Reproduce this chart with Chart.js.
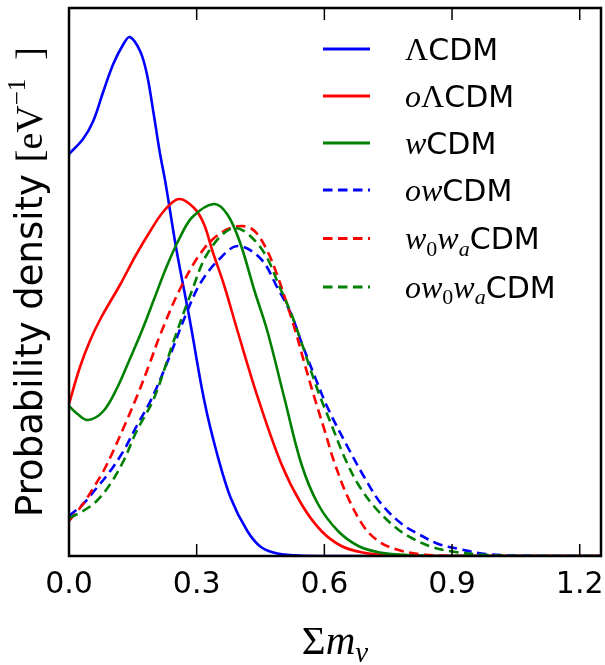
<!DOCTYPE html>
<html>
<head>
<meta charset="utf-8">
<script src="https://cdn.jsdelivr.net/npm/chart.js@4.4.0/dist/chart.umd.min.js"></script>
<style>
  html, body { margin: 0; padding: 0; background: #fff; }
  canvas { display: block; }
</style>
</head>
<body>
<canvas id="chart" width="605" height="665"></canvas>
<script>
// sum of neutrino masses posteriors (arbitrary density units)
const xTicks = [0.0, 0.3, 0.6, 0.9, 1.2];

const lcdmX = [0, 0.033, 0.057, 0.081, 0.104, 0.128, 0.143, 0.167, 0.183, 0.199, 0.214, 0.226, 0.253, 0.283, 0.318, 0.348, 0.38, 0.419, 0.451, 0.49, 0.55, 0.65, 1.25];
const lcdmY = [4.02, 4.17, 4.35, 4.65, 4.92, 5.12, 5.19, 5.05, 4.82, 4.42, 4.02, 3.75, 3.05, 2.38, 1.55, 1.02, 0.58, 0.25, 0.09, 0.025, 0.003, 0, 0];

const olcdmX = [0, 0.025, 0.049, 0.075, 0.121, 0.156, 0.191, 0.223, 0.258, 0.294, 0.317, 0.337, 0.365, 0.396, 0.444, 0.499, 0.546, 0.593, 0.64, 0.69, 0.76, 0.86, 1.25];
const olcdmY = [1.52, 1.88, 2.15, 2.38, 2.72, 3.0, 3.25, 3.45, 3.57, 3.48, 3.32, 3.05, 2.7, 2.25, 1.58, 0.92, 0.52, 0.25, 0.1, 0.035, 0.006, 0, 0];

const wcdmX = [0, 0.02, 0.045, 0.081, 0.113, 0.143, 0.172, 0.2, 0.23, 0.26, 0.29, 0.341, 0.373, 0.403, 0.436, 0.466, 0.506, 0.546, 0.585, 0.632, 0.68, 0.73, 0.8, 0.9, 1.25];
const wcdmY = [1.50, 1.42, 1.36, 1.45, 1.68, 1.97, 2.26, 2.57, 2.90, 3.18, 3.39, 3.52, 3.41, 3.12, 2.65, 2.25, 1.58, 0.92, 0.52, 0.25, 0.1, 0.035, 0.008, 0, 0];

const owcdmX = [0, 0.033, 0.065, 0.097, 0.128, 0.159, 0.195, 0.235, 0.278, 0.309, 0.349, 0.396, 0.451, 0.49, 0.522, 0.545, 0.577, 0.608, 0.656, 0.695, 0.734, 0.782, 0.821, 0.868, 0.916, 0.979, 1.1, 1.25];
const owcdmY = [0.40, 0.52, 0.68, 0.85, 1.05, 1.30, 1.58, 1.98, 2.45, 2.73, 2.95, 3.10, 2.97, 2.68, 2.42, 2.15, 1.80, 1.48, 1.08, 0.78, 0.52, 0.32, 0.22, 0.12, 0.07, 0.02, 0, 0];

const w0waX = [0, 0.033, 0.057, 0.081, 0.104, 0.13, 0.16, 0.19, 0.215, 0.262, 0.313, 0.36, 0.404, 0.436, 0.466, 0.49, 0.515, 0.532, 0.553, 0.577, 0.601, 0.624, 0.656, 0.695, 0.73, 0.766, 0.821, 0.9, 1.25];
const w0waY = [0.35, 0.52, 0.68, 0.85, 1.05, 1.30, 1.60, 1.93, 2.22, 2.68, 3.05, 3.24, 3.30, 3.25, 3.05, 2.80, 2.48, 2.25, 1.93, 1.58, 1.25, 0.93, 0.58, 0.28, 0.14, 0.07, 0.02, 0, 0];

const ow0waX = [0, 0.033, 0.065, 0.097, 0.128, 0.159, 0.2, 0.246, 0.286, 0.329, 0.389, 0.451, 0.499, 0.527, 0.585, 0.616, 0.648, 0.679, 0.718, 0.766, 0.805, 0.853, 0.9, 0.963, 1.05, 1.25];
const ow0waY = [0.38, 0.45, 0.55, 0.72, 0.95, 1.25, 1.58, 2.15, 2.62, 3.05, 3.28, 3.08, 2.65, 2.37, 1.65, 1.32, 0.98, 0.72, 0.49, 0.29, 0.18, 0.09, 0.045, 0.015, 0, 0];

const seriesNames = ['ΛCDM', 'oΛCDM', 'wCDM', 'owCDM', 'w₀wₐCDM', 'ow₀wₐCDM'];

const SANS = '"DejaVu Sans"';
const SERIF = '"Liberation Serif"';

function pts(xs, ys) {
    return xs.map((x, i) => ({ x: x, y: ys[i] }));
}

function makeSet(label, xs, ys, color, dashed, order) {
    return {
        label: label,
        data: pts(xs, ys),
        borderColor: color,
        borderWidth: 2.6,
        borderDash: dashed ? [9.5, 5.5] : [],
        pointRadius: 0,
        fill: false,
        tension: 0.35,
        order: order
    };
}

// split a label into sans / math-italic / subscript pieces, like mathtext does
function labelParts(label, size) {
    const parts = [];
    for (const ch of label) {
        let p;
        if (ch === '₀') p = { t: '0', f: `${Math.round(size * 0.72)}px ${SERIF}`, dy: size * 0.22 };
        else if (ch === 'ₐ') p = { t: 'a', f: `italic ${Math.round(size * 0.72)}px ${SERIF}`, dy: size * 0.22 };
        else if (ch === 'Λ') p = { t: ch, f: `${size + 2}px ${SERIF}`, dy: 0 };
        else if (/[a-z]/.test(ch)) p = { t: ch, f: `italic ${size + 2}px ${SERIF}`, dy: 0 };
        else p = { t: ch, f: `${size}px ${SANS}`, dy: 0 };
        const last = parts[parts.length - 1];
        if (last && last.f === p.f && last.dy === p.dy) last.t += p.t;
        else parts.push(p);
    }
    return parts;
}

function drawRich(ctx, parts, x, y, align) {
    let w = 0;
    parts.forEach(p => { ctx.font = p.f; w += ctx.measureText(p.t).width; });
    let cx = align === 'center' ? x - w / 2 : x;
    ctx.textBaseline = 'alphabetic';
    ctx.textAlign = 'left';
    parts.forEach(p => {
        ctx.font = p.f;
        ctx.fillText(p.t, cx, y + p.dy);
        cx += ctx.measureText(p.t).width;
    });
}

const framePlugin = {
    id: 'frame',
    afterDraw(chart) {
        const ctx = chart.ctx;
        const a = chart.chartArea;
        const sx = chart.scales.x;
        ctx.save();
        ctx.strokeStyle = '#000';
        ctx.lineWidth = 1.5;
        xTicks.forEach(v => {
            if (v <= 0) return;
            const px = sx.getPixelForValue(v);
            ctx.beginPath();
            ctx.moveTo(px, a.bottom); ctx.lineTo(px, a.bottom - 12);
            ctx.moveTo(px, a.top); ctx.lineTo(px, a.top + 12);
            ctx.stroke();
        });
        ctx.lineWidth = 2.5;
        ctx.strokeRect(a.left, a.top, a.right - a.left, a.bottom - a.top);
        ctx.restore();
    }
};

const legendPlugin = {
    id: 'mplLegend',
    afterDraw(chart) {
        const ctx = chart.ctx;
        const a = chart.chartArea;
        let y = a.top + 41;
        ctx.save();
        ctx.fillStyle = '#000';
        chart.data.datasets.forEach((ds, i) => {
            if (i > 0) y += 47 + (/[₀ₐ]/.test(ds.label) ? 1.5 : 0);
            ctx.save();
            ctx.strokeStyle = ds.borderColor;
            ctx.lineWidth = 3;
            ctx.setLineDash(ds.borderDash);
            ctx.beginPath();
            ctx.moveTo(a.left + 254, y);
            ctx.lineTo(a.left + 301, y);
            ctx.stroke();
            ctx.restore();
            drawRich(ctx, labelParts(ds.label, 30), a.left + 336, y + 10.5, 'left');
        });
        ctx.restore();
    }
};

const titlesPlugin = {
    id: 'axisTitles',
    afterDraw(chart) {
        const ctx = chart.ctx;
        const a = chart.chartArea;
        ctx.save();
        ctx.fillStyle = '#000';
        // x title: Σ m_ν
        drawRich(ctx, [
            { t: 'Σ', f: `41px ${SERIF}`, dy: 0 },
            { t: 'm', f: `italic 41px ${SERIF}`, dy: 0 },
            { t: 'ν', f: `italic 29px ${SERIF}`, dy: 8 }
        ], (a.left + a.right) / 2, 654, 'center');
        // y title, rotated
        ctx.translate(42, (a.top + a.bottom) / 2);
        ctx.rotate(-Math.PI / 2);
        drawRich(ctx, [
            { t: 'Probability density ', f: `37px ${SANS}`, dy: 0 },
            { t: '[e', f: `38px ${SERIF}`, dy: 0 },
            { t: 'V', f: `38px ${SERIF}`, dy: 0 },
            { t: '−1', f: `25px ${SERIF}`, dy: -17 },
            { t: '  ]', f: `38px ${SERIF}`, dy: 0 }
        ], 0, 0, 'center');
        ctx.restore();
    }
};

const datasets = [
    makeSet(seriesNames[0], lcdmX, lcdmY, '#0000ff', false, 5),
    makeSet(seriesNames[1], olcdmX, olcdmY, '#ff0000', false, 4),
    makeSet(seriesNames[2], wcdmX, wcdmY, '#008000', false, 3),
    makeSet(seriesNames[3], owcdmX, owcdmY, '#0000ff', true, 2),
    makeSet(seriesNames[4], w0waX, w0waY, '#ff0000', true, 1),
    makeSet(seriesNames[5], ow0waX, ow0waY, '#008000', true, 0)
];

new Chart(document.getElementById('chart'), {
    type: 'line',
    data: { datasets: datasets },
    options: {
        responsive: false,
        animation: false,
        devicePixelRatio: 1,
        layout: { padding: { left: 69, right: 4, top: 8, bottom: 64 } },
        plugins: { legend: { display: false }, tooltip: { enabled: false } },
        scales: {
            x: {
                type: 'linear',
                min: 0,
                max: 1.25,
                afterBuildTicks: scale => { scale.ticks = xTicks.map(v => ({ value: v })); },
                afterFit: scale => {
                    scale.height = 45;
                    scale.paddingLeft = 0;
                    scale.paddingRight = 0;
                },
                grid: { display: false, drawTicks: false },
                border: { display: false },
                ticks: {
                    color: '#000',
                    padding: 11,
                    maxRotation: 0,
                    autoSkip: false,
                    font: { family: 'DejaVu Sans', size: 30 },
                    callback: v => Number(v).toFixed(1)
                }
            },
            y: {
                type: 'linear',
                display: false,
                min: 0,
                max: 5.48
            }
        }
    },
    plugins: [framePlugin, legendPlugin, titlesPlugin]
});
</script>
</body>
</html>
